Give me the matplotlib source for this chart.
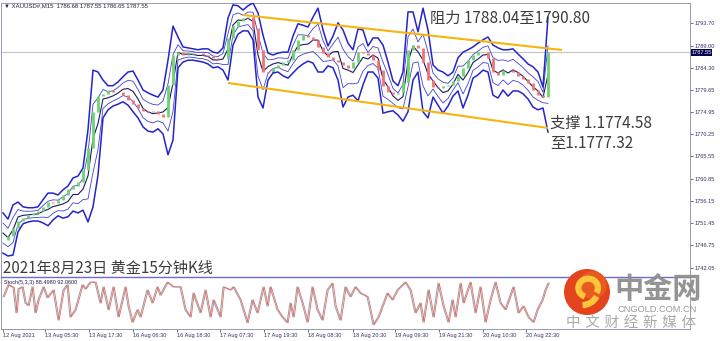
import matplotlib
matplotlib.use("Agg")
import matplotlib.pyplot as plt
import numpy as np
from matplotlib.patches import Circle, Arc

plt.rcParams['font.family'] = ['Noto Sans CJK SC', 'DejaVu Sans']

# ---------------- data ----------------
close = [1747.9, 1748.7, 1750.4, 1751.9, 1752.5, 1753.2, 1753.6, 1754.0, 1754.9, 1755.9,
         1755.7, 1756.4, 1757.4, 1758.7, 1759.3, 1760.2, 1762.7, 1767.3, 1775.0, 1778.3,
         1778.8, 1779.6, 1779.2, 1779.2, 1778.5, 1777.5, 1776.6, 1775.8, 1775.2, 1775.0,
         1775.2, 1774.5, 1773.9, 1780.7, 1787.0, 1787.6, 1787.0, 1787.2, 1787.4, 1787.4,
         1787.0, 1786.8, 1786.4, 1786.2, 1786.2, 1790.6, 1793.1, 1794.2, 1794.8, 1795.0,
         1792.7, 1788.1, 1783.4, 1783.2, 1784.3, 1784.9, 1785.5, 1785.9, 1788.1, 1790.2,
         1791.2, 1790.8, 1790.2, 1788.7, 1787.4, 1786.6, 1785.9, 1785.5, 1784.9, 1784.3,
         1785.5, 1787.6, 1787.4, 1787.0, 1785.9, 1783.8, 1780.5, 1779.2, 1778.8, 1779.0,
         1781.3, 1788.1, 1789.1, 1788.5, 1785.5, 1781.7, 1780.2, 1780.0, 1780.5, 1780.7,
         1781.5, 1782.6, 1784.3, 1785.9, 1787.0, 1787.6, 1787.6, 1786.4, 1783.4, 1782.8,
         1783.8, 1783.8, 1783.4, 1782.6, 1781.9, 1781.1, 1779.6, 1778.5, 1778.1, 1787.55]

upper = [1753.6, 1752.3, 1755.3, 1755.9, 1754.9, 1754.7, 1754.7, 1754.9, 1756.4, 1757.8,
         1757.8, 1757.4, 1758.5, 1759.3, 1761.0, 1761.4, 1763.1, 1771.2, 1783.8, 1783.4,
         1781.7, 1780.5, 1780.5, 1781.3, 1782.4, 1783.4, 1783.6, 1781.7, 1779.6, 1779.0,
         1778.5, 1778.1, 1779.6, 1785.9, 1793.1, 1790.8, 1788.7, 1788.5, 1788.3, 1788.1,
         1788.3, 1788.3, 1787.6, 1787.4, 1788.5, 1794.8, 1797.6, 1797.4, 1796.5, 1797.4,
         1798.0, 1795.9, 1791.2, 1787.4, 1787.0, 1787.4, 1787.6, 1787.6, 1791.0, 1793.6,
         1793.3, 1792.9, 1795.0, 1796.9, 1792.3, 1788.9, 1791.0, 1793.8, 1792.3, 1789.5,
         1788.1, 1792.5, 1792.3, 1788.9, 1790.6, 1790.6, 1789.1, 1785.5, 1781.5, 1780.5,
         1783.4, 1796.1, 1796.1, 1791.9, 1796.9, 1792.3, 1784.9, 1783.8, 1783.4, 1782.6,
         1783.4, 1786.4, 1787.6, 1788.1, 1788.7, 1789.5, 1790.2, 1790.8, 1789.1, 1788.5,
         1788.1, 1788.1, 1788.3, 1787.2, 1786.2, 1785.1, 1784.5, 1783.4, 1780.2, 1795.0]

lower = [1745.1, 1744.5, 1744.7, 1749.6, 1751.3, 1751.7, 1751.9, 1751.9, 1751.5, 1750.9,
         1752.1, 1753.0, 1752.5, 1752.8, 1754.0, 1753.6, 1754.2, 1751.7, 1754.9, 1761.6,
         1773.7, 1775.4, 1776.2, 1776.6, 1777.1, 1776.4, 1775.0, 1773.7, 1771.8, 1770.9,
         1770.7, 1771.4, 1770.3, 1765.9, 1769.0, 1784.3, 1785.5, 1785.9, 1785.9, 1785.7,
         1785.5, 1785.1, 1784.3, 1784.5, 1783.8, 1781.7, 1789.1, 1791.4, 1792.1, 1792.1,
         1790.2, 1778.1, 1775.8, 1781.7, 1783.2, 1783.4, 1782.6, 1782.1, 1783.2, 1784.3,
         1785.1, 1785.7, 1785.3, 1783.4, 1783.4, 1784.7, 1784.3, 1781.7, 1776.0, 1778.1,
         1778.5, 1777.3, 1780.7, 1783.4, 1783.4, 1782.1, 1774.7, 1775.0, 1775.2, 1774.3,
         1773.0, 1775.0, 1781.7, 1783.4, 1775.0, 1773.7, 1778.1, 1776.4, 1774.7, 1776.2,
         1778.3, 1779.4, 1775.8, 1778.5, 1782.1, 1782.8, 1783.8, 1783.4, 1778.5, 1777.9,
         1779.6, 1778.3, 1779.4, 1779.4, 1778.8, 1777.7, 1776.0, 1775.4, 1775.8, 1770.7]

stoch_t = [0, 1.0, 2.0, 2.6, 3.0, 3.8, 4.4, 5.0, 5.8, 6.4, 7.0, 8.0, 8.8, 10.0, 11.0, 12.0,
           12.8, 13.4, 14.4, 15.8, 16.4, 17.4, 18.4, 19.4, 20.0, 21.0, 22.0, 23.0, 24.4,
           25.0, 25.8, 26.8, 27.4, 28.8, 29.8, 30.8, 31.4, 32.8, 34.0, 35.4, 36.4, 37.4,
           38.0, 39.4, 40.4, 41.4, 42.0, 43.4, 44.0, 45.4, 46.0, 47.4, 48.8, 49.8, 50.8,
           52.0, 52.8, 53.4, 54.8, 55.8, 56.8, 57.4, 58.0, 58.8, 59.8, 60.8, 61.8, 62.8,
           63.8, 64.8, 65.8, 66.4, 67.4, 68.4, 69.4, 70.4, 71.4, 72.8, 74.0, 75.0, 76.8,
           77.8, 78.8, 80.4, 81.4, 82.4, 83.4, 84.0, 85.0, 86.0, 87.0, 88.0, 89.0, 89.8,
           90.4, 91.4, 92.0, 93.4, 94.4, 95.4, 96.4, 97.4, 98.4, 99.4, 100.4, 102.0, 103.0,
           104.0, 105.0, 106.0, 106.8, 107.8, 108.4, 109.0]
stoch_k = [62, 85, 80, 31, 77, 81, 50, 45, 81, 31, 56, 81, 60, 75, 17, 75, 85, 23, 37, 85,
           77, 90, 90, 50, 81, 37, 81, 23, 81, 44, 13, 37, 23, 75, 50, 81, 65, 90, 81, 81,
           37, 23, 69, 31, 75, 23, 56, 23, 81, 75, 81, 56, 12, 56, 31, 81, 44, 81, 37, 23,
           12, 50, 23, 81, 50, 13, 81, 37, 17, 75, 88, 44, 17, 81, 62, 81, 69, 62, 8, 23,
           69, 56, 75, 90, 75, 31, 50, 13, 75, 23, 88, 44, 13, 56, 23, 88, 50, 90, 31, 81,
           13, 56, 90, 50, 37, 81, 31, 44, 23, 13, 37, 56, 75, 88.5]

price_ticks = [1793.70, 1789.00, 1784.30, 1779.65, 1774.95, 1770.25,
               1765.55, 1760.85, 1756.15, 1751.45, 1746.75, 1742.05]
time_ticks = [0, 8.4, 17.2, 26.0, 34.8, 43.4, 52.2, 61.0, 70.0, 78.4, 87.2, 96.0, 104.6]
time_labels = ["12 Aug 2021", "13 Aug 05:30", "13 Aug 17:30", "16 Aug 06:30",
               "16 Aug 18:30", "17 Aug 07:30", "17 Aug 19:30", "18 Aug 08:30",
               "18 Aug 20:30", "19 Aug 09:30", "19 Aug 21:30", "20 Aug 10:30",
               "20 Aug 22:30"]
res_t = [48.0, 111.8]
res_p = [1795.46, 1788.06]
sup_t = [45.0, 109.0]
sup_p = [1781.08, 1771.57]
last_price = 1787.55

# ---------------- figure ----------------
W, H = 720, 341
fig = plt.figure(figsize=(W / 100, H / 100), dpi=100)
fig.patch.set_facecolor('white')


def fx(px):
    return px / W


def fy(py):
    return 1 - py / H


ax = fig.add_axes([fx(1), fy(277), fx(690) - fx(1), fy(3) - fy(277)])
axs = fig.add_axes([fx(1), fy(329), fx(690) - fx(1), fy(277) - fy(329)])

t = np.arange(len(close))
c = np.array(close)
o = np.r_[c[0], c[:-1]]
U = np.array(upper)
L = np.array(lower)
mid = (U + L) / 2
half = (U - L) / 2

# bands (inner + middle)
ax.plot(t, mid + 0.5 * half, color='#4040d4', lw=0.6, zorder=3)
ax.plot(t, mid - 0.5 * half, color='#4040d4', lw=0.6, zorder=3)
ax.plot(t, mid, color='#1a1a66', lw=0.8, zorder=3)

# candles
upm = c >= o
ax.vlines(t[upm], o[upm], c[upm], color='#6fd46f', lw=2.0, zorder=4)
ax.vlines(t[~upm], c[~upm], o[~upm], color='#f07474', lw=2.0, zorder=4)

# outer bands
ax.plot(t, U, color='#2424cc', lw=1.1, zorder=5)
ax.plot(t, L, color='#2424cc', lw=1.1, zorder=5)

# channel lines
ax.plot(res_t, res_p, color='#f6b50e', lw=1.5, solid_capstyle='butt', zorder=6)
ax.plot(sup_t, sup_p, color='#f6b50e', lw=1.5, solid_capstyle='butt', zorder=6)

# current price line
ax.axhline(last_price, color='#c4c4c4', lw=0.8, zorder=1)

ax.set_xlim(-0.4, 137.4)
ax.set_ylim(1740.06, 1797.99)
ax.set_xticks([])
ax.yaxis.tick_right()
ax.set_yticks(price_ticks)
ax.set_yticklabels([f"{v:.2f}" for v in price_ticks],
                   family=['Liberation Sans', 'DejaVu Sans'])
ax.tick_params(axis='y', right=True, left=False, length=2, width=0.5, pad=1.2,
               labelsize=4.1, colors='#303068')
for s in ax.spines.values():
    s.set_color('#9a9ab0')
    s.set_linewidth(0.7)
ax.spines['bottom'].set_visible(False)
ax.text(1.002, last_price, f"{last_price:.2f}", transform=ax.get_yaxis_transform(),
        ha='left', va='center', fontsize=4.1, color='white',
        family=['Liberation Sans', 'DejaVu Sans'],
        bbox=dict(facecolor='#000050', edgecolor='none', pad=0.5), zorder=7)

# stochastic
st = np.array(stoch_t)
sk = np.array(stoch_k)
axs.plot(st, sk, color='#a2a2a2', lw=0.8, zorder=2)
axs.plot(st + 0.25, sk, color='#e46a6a', lw=0.6, zorder=3)
axs.set_xlim(-0.4, 137.4)
axs.set_ylim(0, 100)
axs.set_yticks([])
axs.set_xticks(time_ticks)
axs.set_xticklabels(time_labels, ha='left', family=['Liberation Sans', 'DejaVu Sans'])
axs.tick_params(axis='x', length=2, width=0.5, pad=1.2, labelsize=4.1, colors='#303068')
for s in axs.spines.values():
    s.set_color('#9a9ab0')
    s.set_linewidth(0.7)
axs.spines['top'].set_color('#6c6cd0')
axs.spines['top'].set_linewidth(1.0)

# texts
small = ['Liberation Sans', 'DejaVu Sans']
fig.text(fx(4), fy(6), "\u25bc XAUUSD#,M15  1786.68 1787.55 1786.65 1787.55",
         fontsize=4.3, color='#202040', family=small, va='center', ha='left')
fig.text(fx(4), fy(282.5), "Stoch(5,3,3) 88.4980 92.0600",
         fontsize=4.0, color='#202040', family=small, va='center', ha='left')
fig.text(fx(430), fy(18), "阻力 1788.04至1790.80", fontsize=11, color='#3c3c3c',
         va='center', ha='left')
fig.text(fx(550), fy(123), "支撑 1.1774.58", fontsize=11, color='#3c3c3c',
         va='center', ha='left')
fig.text(fx(550), fy(143), "至1.1777.32", fontsize=11, color='#3c3c3c',
         va='center', ha='left')
fig.text(fx(3), fy(268), "2021年8月23日 黄金15分钟K线", fontsize=10.9, color='#3c3c3c',
         va='center', ha='left')

# watermark
lax = fig.add_axes([fx(564), fy(315), 46 / W, 46 / H])
lax.set_xlim(-1, 1)
lax.set_ylim(-1, 1)
lax.set_aspect('equal')
lax.axis('off')
lax.add_patch(Circle((0, 0), 1.0, facecolor='#e3441c', edgecolor='none'))
lax.add_patch(Circle((0.25, 0.3), 0.6, facecolor='#ee6a26', edgecolor='none', alpha=0.6))
lax.add_patch(Arc((0.05, 0.18), 0.85, 0.8, theta1=-30, theta2=250, lw=4.5, color='#fcc63a'))
lax.add_patch(Arc((-0.25, 0.05), 1.45, 1.25, theta1=275, theta2=340, lw=4.5, color='#fcc63a'))
fig.text(fx(614), fy(289), "中金网", fontsize=21, color='#8e8e8e', fontweight='bold',
         va='center', ha='left', alpha=0.95)
fig.text(fx(617), fy(310), "CNGOLD.COM.CN", fontsize=6.7, color='#9a9a9a',
         family=small, va='center', ha='left')
fig.text(fx(566), fy(322), "中 文 财 经 新 媒 体", fontsize=10.5, color='#aaaaaa',
         family=['DejaVu Sans', 'Noto Sans CJK SC'], va='center', ha='left')

fig.savefig("out.png", dpi=100)
